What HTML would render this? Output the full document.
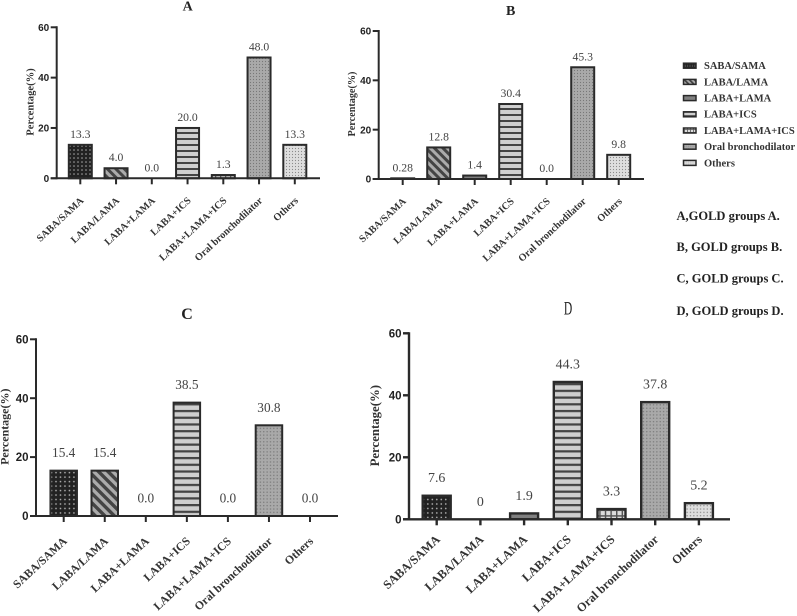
<!DOCTYPE html>
<html lang="en">
<head>
<meta charset="utf-8">
<title>Inhaler use by GOLD group</title>
<style>
html,body{margin:0;padding:0;background:#fff;}
#figure{display:block;width:797px;height:616px;filter:blur(0.35px);}
text{font-family:"Liberation Serif",serif;}
</style>
</head>
<body>
<svg id="figure" xmlns="http://www.w3.org/2000/svg" width="797" height="616" viewBox="0 0 797 616">
<defs id="pattern-defs"></defs>
<g id="panels"></g>
<g id="legend"></g>
<g font-weight="bold" font-size="12.5" fill="#222">
<text x="676.5" y="220">A,GOLD groups A.</text>
<text x="676.5" y="251">B, GOLD groups B.</text>
<text x="676.5" y="282.5">C, GOLD groups C.</text>
<text x="676.5" y="315">D, GOLD groups D.</text>
</g>
</svg>
<script>
const categories = ["SABA/SAMA", "LABA/LAMA", "LABA+LAMA", "LABA+ICS", "LABA+LAMA+ICS", "Oral bronchodilator", "Others"];
const yTickLabels = [0, 20, 40, 60];
const valuesA = [13.3, 4.0, 0.0, 20.0, 1.3, 48.0, 13.3];
const printedA = ["13.3", "4.0", "0.0", "20.0", "1.3", "48.0", "13.3"];
const valuesB = [0.28, 12.8, 1.4, 30.4, 0.0, 45.3, 9.8];
const printedB = ["0.28", "12.8", "1.4", "30.4", "0.0", "45.3", "9.8"];
const valuesC = [15.4, 15.4, 0.0, 38.5, 0.0, 30.8, 0.0];
const printedC = ["15.4", "15.4", "0.0", "38.5", "0.0", "30.8", "0.0"];
const valuesD = [7.6, 0, 1.9, 44.3, 3.3, 37.8, 5.2];
const printedD = ["7.6", "0", "1.9", "44.3", "3.3", "37.8", "5.2"];

const NS = "http://www.w3.org/2000/svg";
function make(parent, tag, attrs, text) {
  const el = document.createElementNS(NS, tag);
  for (const k in attrs) el.setAttribute(k, attrs[k]);
  if (text !== undefined) el.textContent = text;
  parent.appendChild(el);
  return el;
}
const defs = document.getElementById("pattern-defs");
const kinds = ["saba", "diag", "lala", "ics", "triple", "oral", "others"];
function addPattern(kind, id, s) {
  const size = {saba:4, diag:6, lala:4, ics:6, triple:5, oral:3, others:3}[kind];
  const tf = (kind === "diag" ? "rotate(45) " : "") + "scale(" + s + ")";
  const p = make(defs, "pattern", {id:id, patternUnits:"userSpaceOnUse", width:size, height:size, patternTransform:tf});
  const bg = {saba:"#222", diag:"#ababab", lala:"#808080", ics:"#cfcfcf", triple:"#dcdcdc", oral:"#a9a9a9", others:"#dedede"}[kind];
  make(p, "rect", {x:0, y:0, width:size, height:size, fill:bg});
  if (kind === "saba") make(p, "circle", {cx:2, cy:2, r:0.75, fill:"#b0b0b0"});
  if (kind === "diag") make(p, "rect", {x:0, y:0, width:6, height:3, fill:"#444"});
  if (kind === "ics") make(p, "rect", {x:0, y:0, width:6, height:2, fill:"#444"});
  if (kind === "triple") {
    make(p, "rect", {x:0, y:0, width:5, height:1.3, fill:"#555"});
    make(p, "rect", {x:0, y:0, width:1.3, height:5, fill:"#555"});
  }
  if (kind === "oral") make(p, "circle", {cx:1.5, cy:1.5, r:0.6, fill:"#777"});
  if (kind === "others") make(p, "circle", {cx:1.5, cy:1.5, r:0.6, fill:"#8a8a8a"});
}

const panels = [
  {key:"a", title:"A", titleX:187.7, titleY:10.5, titleSize:14, values:valuesA, printed:printedA,
   axisX:56.7, axisEnd:320, y0:178.3, y60:27.3, x0:80.3, step:35.75, barW:23, stroke:2,
   tickSize:10, valueSize:11.7, catSize:10.2, titleYX:30, titleYY:102, yTitleSize:10.6, gap:7, scale:1, catDrop:23},
  {key:"b", title:"B", titleX:510.7, titleY:15, titleSize:14, values:valuesB, printed:printedB,
   axisX:378.7, axisEnd:644, y0:179, y60:31, x0:402.7, step:36, barW:23, stroke:2,
   tickSize:10, valueSize:11.7, catSize:10.2, titleYX:351.7, titleYY:104, yTitleSize:10.2, gap:7, scale:1, catDrop:23},
  {key:"c", title:"C", titleX:187, titleY:319, titleSize:16, values:valuesC, printed:printedC,
   axisX:36, axisEnd:338, y0:516, y60:339.3, x0:63.7, step:41.05, barW:26.5, stroke:2,
   tickSize:11.5, valueSize:13.3, catSize:11.7, titleYX:4.7, titleYY:426.7, yTitleSize:12, gap:13.5, scale:1.12, catDrop:26},
  {key:"d", title:"D", titleX:568, titleY:314.5, titleSize:17, values:valuesD, printed:printedD,
   axisX:409, axisEnd:730, y0:519.3, y60:333.3, x0:436.7, step:43.7, barW:28, stroke:2.4,
   tickSize:11.5, valueSize:13.9, catSize:12.3, titleYX:374.7, titleYY:425.7, yTitleSize:12.8, gap:13.5, scale:1.12, catDrop:21}
];

const panelsRoot = document.getElementById("panels");
panels.forEach(function (P) {
  kinds.forEach(function (k) { addPattern(k, k + "-" + P.key, P.scale); });
  const yScale = function (v) { return P.y0 - (v / 60) * (P.y0 - P.y60); };
  const xScale = function (i) { return P.x0 + i * P.step; };

  const g = make(panelsRoot, "g", {});
  
  

  const title = make(g, "text", {x:0, y:0, "text-anchor":"middle", "font-size":P.titleSize,
    "font-weight":P.key === "d" ? "normal" : "bold", fill:"#222",
    transform:"translate(" + P.titleX + "," + P.titleY + ")" + (P.key === "d" ? " scale(0.68,1.1)" : "")}, P.title);
  
  

  P.values.forEach(function (v, i) {
    const top = yScale(v);
    const cx = xScale(i);
    if (v > 0) {
      const bar = make(g, "rect", {x:cx - P.barW / 2, y:top, width:P.barW, height:P.y0 - top,
        fill:"url(#" + kinds[i] + "-" + P.key + ")", stroke:"#2a2a2a", "stroke-width":P.stroke});
      
      
    }
    const val = make(g, "text", {x:cx, y:top - P.gap, "text-anchor":"middle", "font-size":P.valueSize, fill:"#444"}, P.printed[i]);
    
    

    const tick = make(g, "line", {x1:cx, x2:cx, y1:P.y0, y2:P.y0 + 6, stroke:"#2a2a2a", "stroke-width":P.stroke});
    
    

    const ly = P.y0 + P.catDrop;
    const cat = make(g, "text", {x:0, y:0, "text-anchor":"end", "font-size":P.catSize, "font-weight":"bold", fill:"#333",
      transform:"translate(" + (cx + 4) + "," + ly + ") rotate(-43)"}, categories[i]);
    
    
  });

  const yAxis = make(g, "line", {x1:P.axisX, x2:P.axisX, y1:P.y60 - 1, y2:P.y0 + 1, stroke:"#2a2a2a", "stroke-width":P.stroke});
  
  

  const xAxis = make(g, "line", {x1:P.axisX - 6, x2:P.axisEnd, y1:P.y0, y2:P.y0, stroke:"#2a2a2a", "stroke-width":P.stroke});
  
  

  yTickLabels.forEach(function (t) {
    const y = yScale(t);
    const tk = make(g, "line", {x1:P.axisX - 6, x2:P.axisX, y1:y, y2:y, stroke:"#2a2a2a", "stroke-width":P.stroke});
    
    
    const lb = make(g, "text", {x:P.axisX - 7.5, y:y + P.tickSize * 0.36, "text-anchor":"end", "font-size":P.tickSize,
      "font-weight":"bold", fill:"#222", style:'font-family:"Liberation Sans",sans-serif'}, String(t));
    
    
  });

  const yt = make(g, "text", {x:0, y:0, "text-anchor":"middle", "font-size":P.yTitleSize, "font-weight":"bold", fill:"#333",
    transform:"translate(" + (P.titleYX + P.yTitleSize * 0.33) + "," + P.titleYY + ") rotate(-90)"}, "Percentage(%)");
  
  
});

const legend = document.getElementById("legend");
kinds.forEach(function (k) { addPattern(k, k + "-legend", 0.6); });
categories.forEach(function (c, i) {
  const y = 65.7 + i * 16.2;
  const sw = make(legend, "rect", {x:683.5, y:y - 2.5, width:12.5, height:5,
    fill:"url(#" + kinds[i] + "-legend)", stroke:"#2a2a2a", "stroke-width":1.5});
  
  
  const tx = make(legend, "text", {x:704, y:y + 3.4, "font-size":10.5, "font-weight":"bold", fill:"#333"}, c);
  
  
});
</script>
</body>
</html>
